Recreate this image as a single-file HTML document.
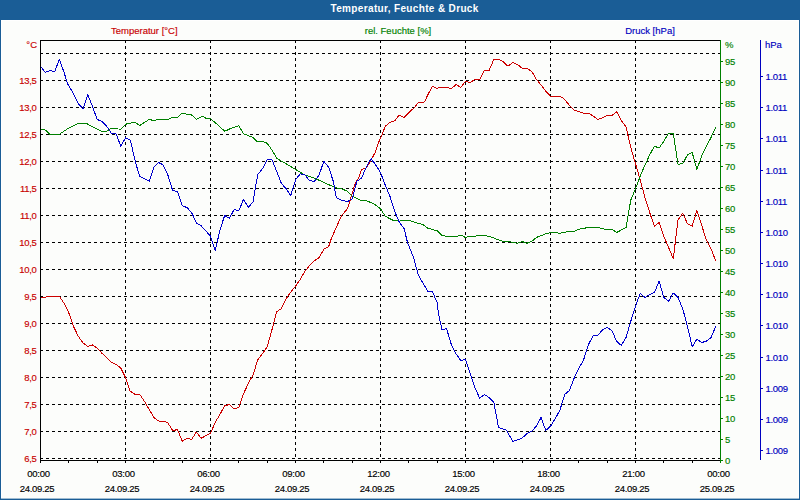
<!DOCTYPE html>
<html><head><meta charset="utf-8"><title>Temperatur, Feuchte &amp; Druck</title>
<style>
html,body{margin:0;padding:0;}
body{width:800px;height:500px;overflow:hidden;background:#fcfdfb;font-family:"Liberation Sans",sans-serif;}
#wrap{position:relative;width:800px;height:500px;overflow:hidden;background:#fcfdfb;}
#hdr{position:absolute;left:0;top:0;width:800px;height:20px;background:#1a5d96;}
svg{position:absolute;left:0;top:0;}
text{font-family:"Liberation Sans",sans-serif;font-size:9.5px;stroke-width:0.15px;}
</style></head><body><div id="wrap">
<div id="hdr"></div>

<svg width="800" height="500" viewBox="0 0 800 500">
<rect x="0" y="20" width="1" height="480" fill="#1a5d96"/>
<rect x="799" y="20" width="1" height="480" fill="#1a5d96"/>
<rect x="0" y="499" width="800" height="1" fill="#1a5d96"/>
<rect x="1" y="498" width="798" height="1" fill="#1a5d96" fill-opacity="0.4"/>
<rect x="1" y="20" width="798" height="1" fill="#fff"/>
<rect x="1" y="20" width="1" height="478" fill="#fff"/>
<rect x="798" y="20" width="1" height="478" fill="#fff"/>
<rect x="40" y="40" width="680" height="420" fill="#fcfdfb"/>
<path d="M40 53.5H720M40 80.5H720M40 107.5H720M40 134.5H720M40 161.5H720M40 188.5H720M40 215.5H720M40 242.5H720M40 269.5H720M40 296.5H720M40 323.5H720M40 350.5H720M40 377.5H720M40 404.5H720M40 431.5H720M40 458.5H720M125.5 40V460M210.5 40V460M295.5 40V460M380.5 40V460M465.5 40V460M550.5 40V460M635.5 40V460" stroke="#000" stroke-width="1" stroke-dasharray="3 3" fill="none" shape-rendering="crispEdges"/>
<path d="M40.5 297.5 L45.22 297.5 L47.5 296.25 L59.39 296.25 L64.11 303.5 L68.83 313 L73.56 326.5 L78.28 336.25 L83 343 L87.72 346.4 L92.44 345 L97.17 348 L101.89 353.25 L106.61 357.5 L111.33 362.5 L116.06 364.25 L120.78 368 L125.5 377.5 L130.22 391.25 L134.94 394.25 L139.67 394.25 L144.39 401.25 L149.11 409.25 L153.83 417.5 L158.56 421 L165 421.25 L168 423 L172.72 430.75 L177.44 429.5 L182.17 441.25 L186.89 438.25 L191.61 439.5 L196.33 432 L201.06 438.25 L205.78 435.75 L210.5 433.25 L215.22 422.5 L221.25 412 L224.67 405.75 L229.39 404.5 L234.11 408.75 L238.83 407.5 L243.56 393.75 L248.28 383.5 L253 375 L257.72 360 L262.44 353.75 L267.17 347 L271.89 330 L276.61 311.75 L281.33 308.75 L286.06 298.75 L290.78 292 L295.5 286.25 L300.22 279.5 L304.94 271.25 L309.67 265.5 L314.39 260.75 L319.11 257.5 L323.83 249.25 L328.56 246.75 L331.25 238.75 L336.25 227.5 L341.25 216.25 L347.44 208.75 L352.17 193.75 L355 183.75 L358.75 177.5 L361.61 169.5 L366.33 168 L371.06 160 L375.78 151.25 L377.5 145 L382.5 133.75 L385.22 126.25 L389.94 122.5 L394.67 120.75 L399.39 115 L404.11 117.5 L408.83 112.5 L415 107 L418.28 102.5 L424.5 102 L427.72 95 L432.44 86.25 L437.17 88.75 L440 87 L446.61 87 L451.33 88.75 L456.06 84.5 L460.78 87.5 L465.5 81.25 L470.22 82.5 L474.94 79.25 L479.67 79.5 L484.39 70.5 L489.11 70.5 L493.83 59.5 L498.56 59.5 L503.28 61.75 L508 66.25 L512.72 62.5 L517.44 64.5 L522.17 68.25 L526.89 68.25 L531.61 71.25 L536.33 79.25 L541.06 85 L545.78 91.25 L550.5 96.25 L559.94 96.25 L564.67 99.25 L569.39 105.5 L574.11 110 L583.56 113.25 L588.28 113.25 L593 115.75 L597.72 119.5 L602.44 118 L607.17 115.5 L611.89 115.5 L616.61 111.75 L621.33 120.5 L626.06 127 L630.78 147.5 L635.5 163.75 L640.22 180 L644.94 197.5 L649.67 212.5 L654.39 226.25 L659.11 222.5 L663.83 236.25 L668.56 247.5 L673.28 258.75 L678 220 L682.72 213.25 L687.44 223.75 L692.17 226.25 L696.89 210.5 L701.61 225 L706.33 240 L711.06 248.75 L715.78 261.25" stroke="#cc0000" stroke-width="1" fill="none" shape-rendering="crispEdges" stroke-linejoin="round"/>
<path d="M40.5 129.25 L45.22 130 L49.94 134.25 L59.39 134.25 L68.83 128 L78.28 123.25 L86.25 123.25 L93.75 127.5 L101.89 131.25 L106.61 131.25 L111.33 128.25 L120.78 129.25 L125.5 124.25 L134.94 122 L139.67 125.5 L149.11 119.5 L153.83 120.5 L158.56 119.5 L168 119.25 L172.72 117.5 L177.44 117.25 L182.17 113.25 L191.61 115 L196.33 119.25 L202.5 116.25 L205.78 118.25 L210.5 118.75 L217.5 124.5 L224.67 131.25 L231.25 128.25 L238.83 125.75 L243.56 133.75 L253 137.5 L257.72 142 L262.44 141.25 L267.17 143.25 L271.89 150 L276.61 158 L281.33 161.25 L286.06 163.75 L295.5 169.5 L304.94 175 L314.39 178 L323.83 182.5 L335 187.5 L342.72 189.25 L347.44 191.25 L352.17 196.25 L360 200 L366.33 200.75 L373.75 203.75 L380.5 208.75 L385.22 216.25 L392.5 220 L399.39 221.25 L404.11 220 L408.83 220.5 L418.28 223.25 L423 224.5 L427.72 228.25 L437.17 230.75 L441.89 235.5 L446.61 236.25 L456.06 236.75 L460.78 235 L465.5 237.5 L468.75 236.5 L474.94 236.25 L479.67 235.25 L486.25 235.75 L492.5 237.5 L498.56 240 L503.28 241.5 L510 241.75 L517.44 243.25 L522.17 241.5 L526.89 243.25 L531.61 241.5 L536.33 237.5 L545.78 233.75 L550.5 232.5 L555.22 232.5 L559.94 233.25 L567.5 231.75 L574.11 231.25 L578.83 229.25 L588.28 227.5 L597.72 227.5 L605 229.25 L611.89 229.25 L616.61 232.5 L621.33 230 L626.06 227.5 L630.78 200 L635.5 188.75 L640.22 176.25 L644.94 165 L649.67 155 L654.39 146.25 L659.11 148 L663.83 141.25 L668.56 133.25 L673.28 133.25 L678 164.25 L682.72 163.75 L687.44 155 L692.17 152.5 L696.89 169.5 L701.61 156.25 L706.33 146.25 L711.06 137.5 L715.78 127" stroke="#008000" stroke-width="1" fill="none" shape-rendering="crispEdges" stroke-linejoin="round"/>
<path d="M40.5 66.25 L45.22 72.5 L49.94 70.5 L54.67 71.5 L59.39 59.5 L64.11 72.5 L67.5 83.75 L73.56 93.75 L78.28 103.75 L83 108.75 L87.72 94.5 L92.44 106.25 L97.17 119.5 L101.89 121.25 L106.61 126.25 L111.33 133.25 L116.06 133.75 L120.78 146.25 L125.5 138 L130.22 140 L136.25 165 L139.67 176.25 L149.11 181.25 L153.83 167.5 L158.56 162.5 L163.28 165 L168 175.5 L172.72 190.75 L177.44 191.25 L182.17 205.75 L186.89 207.5 L191.61 212.5 L196.33 223 L201.06 225.75 L205.78 230.75 L210.5 236.25 L215.22 250.75 L219.94 230 L224.67 215.5 L229.39 218.25 L234.11 209.5 L238.83 210.75 L243.56 199.25 L248.28 207.5 L253 202 L257.72 174.5 L262.44 168.75 L267.17 160 L271.89 159.5 L276.61 171.25 L281.33 183.25 L286.06 188.75 L290.78 195.5 L295.5 180 L300.22 173.75 L304.94 175 L309.67 180.75 L314.39 181.25 L319.11 175 L323.83 161.25 L328.56 167 L333.28 181.25 L336.25 197.5 L341.25 200 L347.44 201.75 L352.17 198.75 L356.89 181.25 L361.61 178 L366.33 167 L371.06 158.75 L375.78 165 L380.5 172.5 L385.22 185 L389.94 196.25 L394.67 211.25 L399.39 222.5 L404.11 228.75 L407.5 242.5 L413.56 257.5 L418.28 275 L427.72 291.25 L432.44 291.75 L437.17 302.5 L438.5 313.75 L441.89 329.5 L446.61 328.75 L451.33 344.5 L456.06 353.75 L460.78 360.75 L465.5 359.25 L470.22 373.5 L474.94 387.5 L479.67 398.25 L484.39 394.5 L489.11 397.5 L493.83 402.5 L498.56 427.5 L506.25 430 L512.72 441.25 L517.44 440 L522.17 438 L526.89 433.75 L531.61 431.25 L536.33 426.25 L541.06 417.5 L545.78 430.5 L550.5 426.25 L555.22 418.75 L559.94 410 L564.67 394.5 L569.39 390.5 L574.11 378.25 L578.83 368.25 L583.56 360 L588.28 345 L593 335.75 L597.72 335.5 L602.44 330 L607.17 327.5 L611.89 330.5 L616.61 341.25 L621.33 345.5 L626.06 337.5 L630.78 321.25 L635.5 306.25 L640.22 293.25 L644.94 297.5 L649.67 294.5 L654.39 292.5 L659.11 281.25 L663.83 297.5 L668.56 301.25 L673.28 293 L678 297.5 L682.72 308.75 L687.44 326.25 L692.17 346.75 L696.89 339.25 L701.61 342.5 L706.33 341.25 L711.06 337.5 L715.78 326.25" stroke="#0000cc" stroke-width="1" fill="none" shape-rendering="crispEdges" stroke-linejoin="round"/>
<path d="M40.5 463V40.5H720" stroke="#000" fill="none" shape-rendering="crispEdges"/>
<path d="M40 460.5H721" stroke="#000" fill="none" shape-rendering="crispEdges"/>
<path d="M40.5 460V463M68.5 460V463M97.5 460V463M125.5 460V463M153.5 460V463M182.5 460V463M210.5 460V463M238.5 460V463M267.5 460V463M295.5 460V463M323.5 460V463M352.5 460V463M380.5 460V463M408.5 460V463M437.5 460V463M465.5 460V463M493.5 460V463M522.5 460V463M550.5 460V463M578.5 460V463M607.5 460V463M635.5 460V463M663.5 460V463M692.5 460V463M720.5 460V463" stroke="#000" fill="none" shape-rendering="crispEdges"/>
<path d="M720.5 40V463M720 460.5H723M720 439.5H723M720 418.5H723M720 397.5H723M720 376.5H723M720 355.5H723M720 334.5H723M720 313.5H723M720 292.5H723M720 271.5H723M720 250.5H723M720 229.5H723M720 208.5H723M720 187.5H723M720 166.5H723M720 145.5H723M720 124.5H723M720 103.5H723M720 82.5H723M720 61.5H723" stroke="#008000" fill="none" shape-rendering="crispEdges"/>
<path d="M760.5 40V460M760 76.5H763M760 107.5H763M760 138.5H763M760 170.5H763M760 201.5H763M760 232.5H763M760 263.5H763M760 294.5H763M760 325.5H763M760 357.5H763M760 388.5H763M760 419.5H763M760 450.5H763" stroke="#0000c0" fill="none" shape-rendering="crispEdges"/>
<text x="404.6" y="12" fill="#fff" text-anchor="middle" style="font-weight:bold;font-size:10px;letter-spacing:0.35px">Temperatur, Feuchte &amp; Druck</text>
<text x="144.3" y="33.6" fill="#c80000" stroke="#c80000" text-anchor="middle">Temperatur [°C]</text>
<text x="398" y="33.6" fill="#008000" stroke="#008000" text-anchor="middle">rel. Feuchte [%]</text>
<text x="650" y="33.6" fill="#0000c0" stroke="#0000c0" text-anchor="middle">Druck [hPa]</text>
<text x="37" y="48" fill="#c80000" stroke="#c80000" text-anchor="end">°C</text>
<text x="36.5" y="84.4" fill="#c80000" stroke="#c80000" text-anchor="end" style="letter-spacing:-0.3px">13,5</text>
<text x="36.5" y="111.4" fill="#c80000" stroke="#c80000" text-anchor="end" style="letter-spacing:-0.3px">13,0</text>
<text x="36.5" y="138.4" fill="#c80000" stroke="#c80000" text-anchor="end" style="letter-spacing:-0.3px">12,5</text>
<text x="36.5" y="165.4" fill="#c80000" stroke="#c80000" text-anchor="end" style="letter-spacing:-0.3px">12,0</text>
<text x="36.5" y="192.4" fill="#c80000" stroke="#c80000" text-anchor="end" style="letter-spacing:-0.3px">11,5</text>
<text x="36.5" y="219.4" fill="#c80000" stroke="#c80000" text-anchor="end" style="letter-spacing:-0.3px">11,0</text>
<text x="36.5" y="246.4" fill="#c80000" stroke="#c80000" text-anchor="end" style="letter-spacing:-0.3px">10,5</text>
<text x="36.5" y="273.4" fill="#c80000" stroke="#c80000" text-anchor="end" style="letter-spacing:-0.3px">10,0</text>
<text x="36.5" y="300.4" fill="#c80000" stroke="#c80000" text-anchor="end" style="letter-spacing:-0.3px">9,5</text>
<text x="36.5" y="327.4" fill="#c80000" stroke="#c80000" text-anchor="end" style="letter-spacing:-0.3px">9,0</text>
<text x="36.5" y="354.4" fill="#c80000" stroke="#c80000" text-anchor="end" style="letter-spacing:-0.3px">8,5</text>
<text x="36.5" y="381.4" fill="#c80000" stroke="#c80000" text-anchor="end" style="letter-spacing:-0.3px">8,0</text>
<text x="36.5" y="408.4" fill="#c80000" stroke="#c80000" text-anchor="end" style="letter-spacing:-0.3px">7,5</text>
<text x="36.5" y="435.4" fill="#c80000" stroke="#c80000" text-anchor="end" style="letter-spacing:-0.3px">7,0</text>
<text x="36.5" y="462.4" fill="#c80000" stroke="#c80000" text-anchor="end" style="letter-spacing:-0.3px">6,5</text>
<text x="725" y="48" fill="#008000" stroke="#008000" text-anchor="start">%</text>
<text x="725" y="463.8" fill="#008000" stroke="#008000" text-anchor="start" style="letter-spacing:-0.3px">0</text>
<text x="725" y="442.8" fill="#008000" stroke="#008000" text-anchor="start" style="letter-spacing:-0.3px">5</text>
<text x="725" y="421.8" fill="#008000" stroke="#008000" text-anchor="start" style="letter-spacing:-0.3px">10</text>
<text x="725" y="400.8" fill="#008000" stroke="#008000" text-anchor="start" style="letter-spacing:-0.3px">15</text>
<text x="725" y="379.8" fill="#008000" stroke="#008000" text-anchor="start" style="letter-spacing:-0.3px">20</text>
<text x="725" y="358.8" fill="#008000" stroke="#008000" text-anchor="start" style="letter-spacing:-0.3px">25</text>
<text x="725" y="337.8" fill="#008000" stroke="#008000" text-anchor="start" style="letter-spacing:-0.3px">30</text>
<text x="725" y="316.8" fill="#008000" stroke="#008000" text-anchor="start" style="letter-spacing:-0.3px">35</text>
<text x="725" y="295.8" fill="#008000" stroke="#008000" text-anchor="start" style="letter-spacing:-0.3px">40</text>
<text x="725" y="274.8" fill="#008000" stroke="#008000" text-anchor="start" style="letter-spacing:-0.3px">45</text>
<text x="725" y="253.8" fill="#008000" stroke="#008000" text-anchor="start" style="letter-spacing:-0.3px">50</text>
<text x="725" y="232.8" fill="#008000" stroke="#008000" text-anchor="start" style="letter-spacing:-0.3px">55</text>
<text x="725" y="211.8" fill="#008000" stroke="#008000" text-anchor="start" style="letter-spacing:-0.3px">60</text>
<text x="725" y="190.8" fill="#008000" stroke="#008000" text-anchor="start" style="letter-spacing:-0.3px">65</text>
<text x="725" y="169.8" fill="#008000" stroke="#008000" text-anchor="start" style="letter-spacing:-0.3px">70</text>
<text x="725" y="148.8" fill="#008000" stroke="#008000" text-anchor="start" style="letter-spacing:-0.3px">75</text>
<text x="725" y="127.8" fill="#008000" stroke="#008000" text-anchor="start" style="letter-spacing:-0.3px">80</text>
<text x="725" y="106.8" fill="#008000" stroke="#008000" text-anchor="start" style="letter-spacing:-0.3px">85</text>
<text x="725" y="85.8" fill="#008000" stroke="#008000" text-anchor="start" style="letter-spacing:-0.3px">90</text>
<text x="725" y="64.8" fill="#008000" stroke="#008000" text-anchor="start" style="letter-spacing:-0.3px">95</text>
<text x="765" y="48" fill="#0000c0" stroke="#0000c0" text-anchor="start">hPa</text>
<text x="765.5" y="80" fill="#0000c0" stroke="#0000c0" text-anchor="start" style="letter-spacing:-0.3px">1.011</text>
<text x="765.5" y="111" fill="#0000c0" stroke="#0000c0" text-anchor="start" style="letter-spacing:-0.3px">1.011</text>
<text x="765.5" y="142" fill="#0000c0" stroke="#0000c0" text-anchor="start" style="letter-spacing:-0.3px">1.011</text>
<text x="765.5" y="174" fill="#0000c0" stroke="#0000c0" text-anchor="start" style="letter-spacing:-0.3px">1.011</text>
<text x="765.5" y="205" fill="#0000c0" stroke="#0000c0" text-anchor="start" style="letter-spacing:-0.3px">1.011</text>
<text x="765.5" y="236" fill="#0000c0" stroke="#0000c0" text-anchor="start" style="letter-spacing:-0.3px">1.010</text>
<text x="765.5" y="267" fill="#0000c0" stroke="#0000c0" text-anchor="start" style="letter-spacing:-0.3px">1.010</text>
<text x="765.5" y="298" fill="#0000c0" stroke="#0000c0" text-anchor="start" style="letter-spacing:-0.3px">1.010</text>
<text x="765.5" y="329" fill="#0000c0" stroke="#0000c0" text-anchor="start" style="letter-spacing:-0.3px">1.010</text>
<text x="765.5" y="361" fill="#0000c0" stroke="#0000c0" text-anchor="start" style="letter-spacing:-0.3px">1.010</text>
<text x="765.5" y="392" fill="#0000c0" stroke="#0000c0" text-anchor="start" style="letter-spacing:-0.3px">1.009</text>
<text x="765.5" y="423" fill="#0000c0" stroke="#0000c0" text-anchor="start" style="letter-spacing:-0.3px">1.009</text>
<text x="765.5" y="454" fill="#0000c0" stroke="#0000c0" text-anchor="start" style="letter-spacing:-0.3px">1.009</text>
<text x="38.5" y="477" fill="#000" stroke="#000" text-anchor="middle" style="letter-spacing:-0.3px">00:00</text>
<text x="37" y="492" fill="#000" stroke="#000" text-anchor="middle" style="letter-spacing:-0.3px">24.09.25</text>
<text x="123.5" y="477" fill="#000" stroke="#000" text-anchor="middle" style="letter-spacing:-0.3px">03:00</text>
<text x="122" y="492" fill="#000" stroke="#000" text-anchor="middle" style="letter-spacing:-0.3px">24.09.25</text>
<text x="208.5" y="477" fill="#000" stroke="#000" text-anchor="middle" style="letter-spacing:-0.3px">06:00</text>
<text x="207" y="492" fill="#000" stroke="#000" text-anchor="middle" style="letter-spacing:-0.3px">24.09.25</text>
<text x="293.5" y="477" fill="#000" stroke="#000" text-anchor="middle" style="letter-spacing:-0.3px">09:00</text>
<text x="292" y="492" fill="#000" stroke="#000" text-anchor="middle" style="letter-spacing:-0.3px">24.09.25</text>
<text x="378.5" y="477" fill="#000" stroke="#000" text-anchor="middle" style="letter-spacing:-0.3px">12:00</text>
<text x="377" y="492" fill="#000" stroke="#000" text-anchor="middle" style="letter-spacing:-0.3px">24.09.25</text>
<text x="463.5" y="477" fill="#000" stroke="#000" text-anchor="middle" style="letter-spacing:-0.3px">15:00</text>
<text x="462" y="492" fill="#000" stroke="#000" text-anchor="middle" style="letter-spacing:-0.3px">24.09.25</text>
<text x="548.5" y="477" fill="#000" stroke="#000" text-anchor="middle" style="letter-spacing:-0.3px">18:00</text>
<text x="547" y="492" fill="#000" stroke="#000" text-anchor="middle" style="letter-spacing:-0.3px">24.09.25</text>
<text x="633.5" y="477" fill="#000" stroke="#000" text-anchor="middle" style="letter-spacing:-0.3px">21:00</text>
<text x="632" y="492" fill="#000" stroke="#000" text-anchor="middle" style="letter-spacing:-0.3px">24.09.25</text>
<text x="718.5" y="477" fill="#000" stroke="#000" text-anchor="middle" style="letter-spacing:-0.3px">00:00</text>
<text x="717" y="492" fill="#000" stroke="#000" text-anchor="middle" style="letter-spacing:-0.3px">25.09.25</text>
</svg>
</div></body></html>
